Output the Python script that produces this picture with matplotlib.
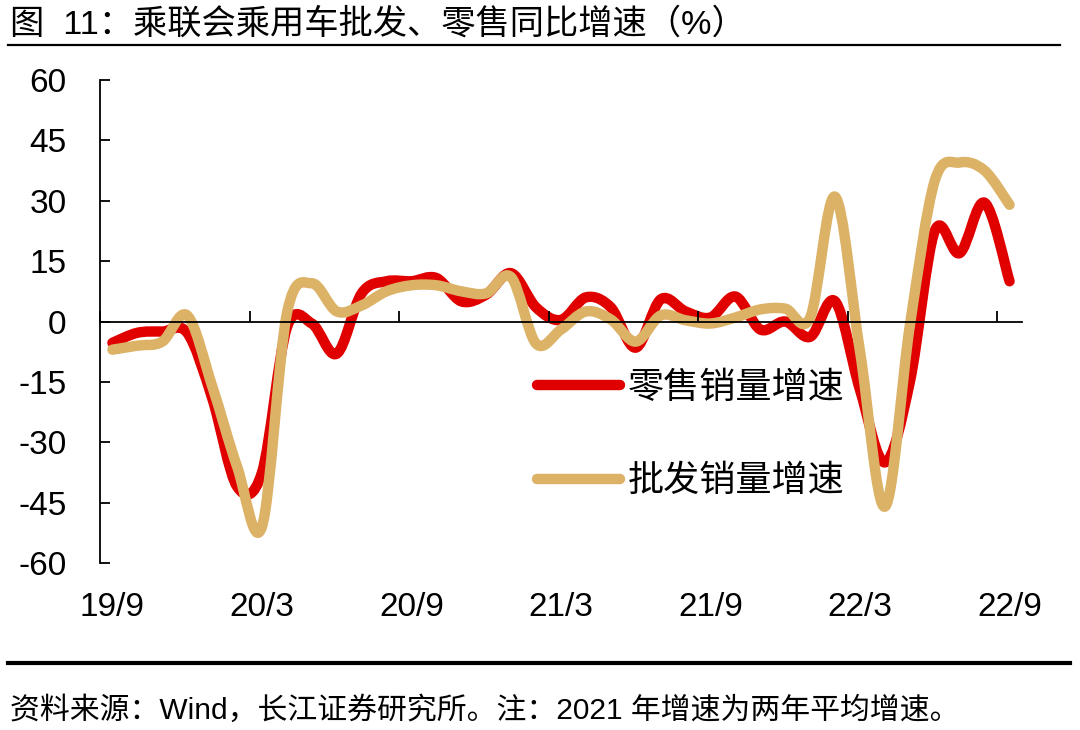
import matplotlib.pyplot as plt
from matplotlib.path import Path
from matplotlib.patches import PathPatch
from matplotlib.lines import Line2D

plt.rcParams['font.family'] = ['Liberation Sans', 'Noto Sans CJK SC']
plt.rcParams['axes.unicode_minus'] = False

months = ['19/9', '19/10', '19/11', '19/12', '20/1', '20/2', '20/3', '20/4', '20/5', '20/6',
          '20/7', '20/8', '20/9', '20/10', '20/11', '20/12', '21/1', '21/2', '21/3', '21/4',
          '21/5', '21/6', '21/7', '21/8', '21/9', '21/10', '21/11', '21/12', '22/1', '22/2',
          '22/3', '22/4', '22/5', '22/6', '22/7', '22/8', '22/9']
tick_labels = ['19/9', '20/3', '20/9', '21/3', '21/9', '22/3', '22/9']

retail = [-5.3, -2.8, -2.5, -2.8, -19, -41, -37.5, -1.5, -0.5, -8,
          7, 10, 10, 10.8, 5, 6.7, 12, 3.5, 0.4, 6,
          3.5, -6.5, 5.5, 2.5, 1, 6.2, -2, 0, -3.8, 5,
          -17, -35, -15, 22.5, 17, 29.5, 10]
wholesale = [-7, -6, -5, 1.5, -16, -36, -51, 2, 9.5, 2.5,
             4, 7.5, 9, 9, 7.5, 7, 11, -5.5, -2, 2.5,
             0.5, -5, 1.5, 0.3, -0.5, 1, 3, 3.2, 1, 31,
             -7.5, -46, -1, 35, 39.5, 37.5, 29]

red = '#E00000'
gold = '#DBB266'


def smooth_path(ys):
    # excel-style smoothed line: cubic bezier through every point
    n = len(ys)
    pts = [(i, v) for i, v in enumerate(ys)]
    verts = [pts[0]]
    codes = [Path.MOVETO]
    for i in range(n - 1):
        p0 = pts[i - 1] if i > 0 else pts[i]
        p1 = pts[i]
        p2 = pts[i + 1]
        p3 = pts[i + 2] if i + 2 < n else pts[i + 1]
        c1 = (p1[0] + (p2[0] - p0[0]) / 6, p1[1] + (p2[1] - p0[1]) / 6)
        c2 = (p2[0] - (p3[0] - p1[0]) / 6, p2[1] - (p3[1] - p1[1]) / 6)
        verts += [c1, c2, p2]
        codes += [Path.CURVE4] * 3
    return Path(verts, codes)


fig = plt.figure(figsize=(10.8, 7.3), dpi=100)
ax = fig.add_axes([100 / 1080, 1 - 563 / 730, 922 / 1080, 483 / 730])

for ys, c in [(retail, red), (wholesale, gold)]:
    patch = PathPatch(smooth_path(ys), facecolor='none', edgecolor=c, lw=7.5,
                      capstyle='round', joinstyle='round', transform=ax.transData)
    ax.add_patch(patch)

ax.set_xlim(-0.5, len(months) - 0.5)
ax.set_ylim(-60, 60)
ax.set_yticks(range(-60, 61, 15))
ax.set_xticks([-0.5 + 6 * k for k in range(7)])
ax.set_xticklabels([])

ax.spines['top'].set_visible(False)
ax.spines['right'].set_visible(False)
ax.spines['bottom'].set_position(('data', 0))
ax.spines['left'].set_linewidth(1.3)
ax.spines['bottom'].set_linewidth(1.3)
ax.tick_params(axis='y', direction='in', length=7, width=1.3, pad=24, labelsize=24)
ax.tick_params(axis='x', direction='in', length=8, width=1.3)

for lab in tick_labels:
    ax.text(months.index(lab), -0.093, lab, transform=ax.get_xaxis_transform(),
            ha='center', va='center', fontsize=24)

handles = [Line2D([], [], color=red, lw=7.5, solid_capstyle='round'),
           Line2D([], [], color=gold, lw=7.5, solid_capstyle='round')]
ax.legend(handles, ['零售销量增速', '批发销量增速'], loc='upper left',
          bbox_to_anchor=(0.474, 0.398), frameon=False, fontsize=26,
          handlelength=2.3, handletextpad=0.2, labelspacing=1.62,
          borderpad=0, borderaxespad=0)

fig.text(10 / 1080, 1 - 24 / 730, '图  11：乘联会乘用车批发、零售同比增速（%）',
         fontsize=24.7, va='center', ha='left')
fig.add_artist(Line2D([8 / 1080, 1060 / 1080], [1 - 45 / 730, 1 - 45 / 730],
                      color='black', lw=1.6, transform=fig.transFigure))
fig.add_artist(Line2D([8 / 1080, 1070 / 1080], [1 - 663 / 730, 1 - 663 / 730],
                      color='black', lw=3, transform=fig.transFigure))
fig.text(10 / 1080, 1 - 710 / 730, '资料来源：Wind，长江证券研究所。注：2021 年增速为两年平均增速。',
         fontsize=21.5, va='center', ha='left')

fig.savefig('out.png', dpi=100)
